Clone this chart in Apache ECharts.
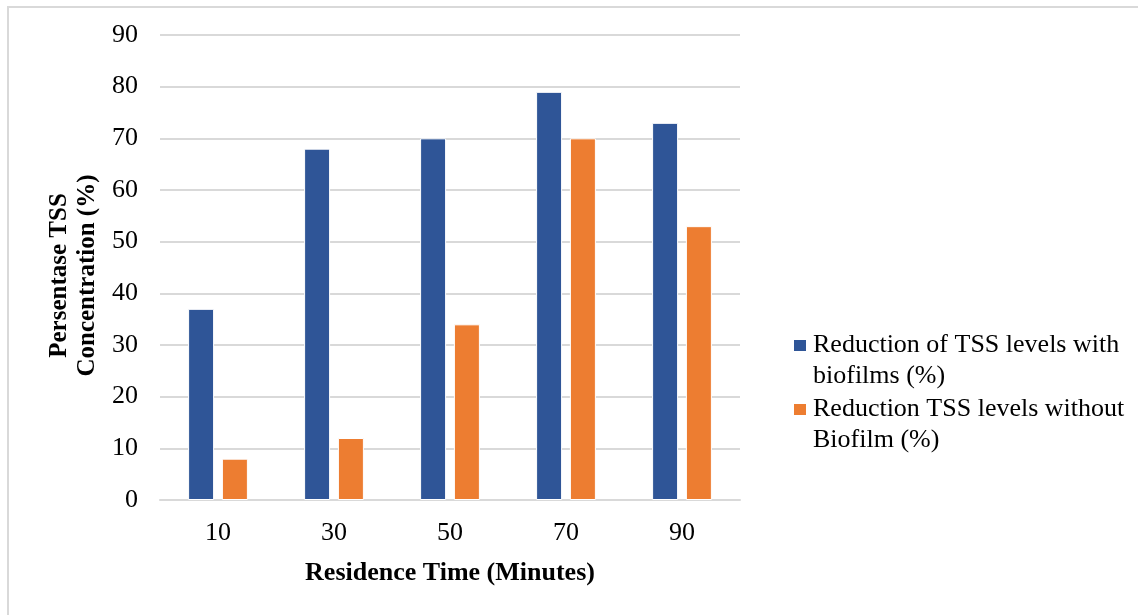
<!DOCTYPE html>
<html>
<head>
<meta charset="utf-8">
<script src="https://cdn.jsdelivr.net/npm/echarts@6/dist/echarts.min.js"></script>
<style>
html,body{margin:0;padding:0;background:#fff;}
#frame{position:absolute;left:7px;top:6px;width:1140px;height:620px;border-left:2px solid #D9D9D9;border-top:2px solid #D9D9D9;box-sizing:border-box;}
#chart{position:absolute;left:0;top:0;width:1138px;height:615px;}
</style>
</head>
<body>
<div id="frame"></div>
<div id="chart"></div>
<script>
const categories = ['10', '30', '50', '70', '90'];
const withBiofilm = [37, 68, 70, 79, 73];
const withoutBiofilm = [8, 12, 34, 70, 53];
const seriesNames = ['Reduction of TSS levels with biofilms (%)', 'Reduction TSS levels without Biofilm (%)'];
const legendLines = {
  'Reduction of TSS levels with biofilms (%)': ['Reduction of TSS levels with', 'biofilms (%)'],
  'Reduction TSS levels without Biofilm (%)': ['Reduction TSS levels without', 'Biofilm (%)']
};
const xTitle = 'Residence Time (Minutes)';
const yTitle = 'Persentase TSS\nConcentration (%)';

const font = 'Liberation Serif';
const chart = echarts.init(document.getElementById('chart'), null, {renderer: 'canvas'});
chart.setOption({
  animation: false,
  backgroundColor: 'transparent',
  grid: {left: 160, right: 398, top: 35, bottom: 115, containLabel: false},
  legend: {
    orient: 'vertical',
    left: 787,
    top: 294,
    itemWidth: 14,
    itemHeight: 13,
    itemGap: -29,
    icon: 'rect',
    data: seriesNames,
    formatter: function (n) { return '\n' + legendLines[n].join('\n'); },
    textStyle: {fontFamily: font, fontSize: 26, color: '#000', lineHeight: 31, padding: [0, 0, 0, 1]}
  },
  xAxis: {
    type: 'category',
    data: categories,
    name: xTitle,
    nameLocation: 'middle',
    nameGap: 60,
    nameTextStyle: {fontFamily: font, fontSize: 26, fontWeight: 'bold', color: '#000'},
    axisLine: {lineStyle: {color: '#D9D9D9', width: 2}},
    axisTick: {show: false},
    axisLabel: {fontFamily: font, fontSize: 26, color: '#000', margin: 20}
  },
  yAxis: {
    type: 'value',
    min: 0, max: 90, interval: 10,
    name: yTitle,
    nameLocation: 'middle',
    nameRotate: 90,
    nameGap: 53,
    nameTextStyle: {fontFamily: font, fontSize: 25, fontWeight: 'bold', color: '#000', lineHeight: 28, padding: [0, 16, 0, 0]},
    axisLine: {show: false},
    axisTick: {show: false},
    splitLine: {lineStyle: {color: '#D9D9D9', width: 2}},
    axisLabel: {fontFamily: font, fontSize: 26, color: '#000', margin: 22}
  },
  series: [
    {
      name: seriesNames[0], type: 'bar', data: withBiofilm,
      barWidth: 26, barGap: '30%',
      itemStyle: {color: '#2F5597', borderColor: '#fff', borderWidth: 1}
    },
    {
      name: seriesNames[1], type: 'bar', data: withoutBiofilm,
      barWidth: 26, barGap: '30%',
      itemStyle: {color: '#ED7D31', borderColor: '#fff', borderWidth: 1}
    }
  ]
});
</script>
</body>
</html>
